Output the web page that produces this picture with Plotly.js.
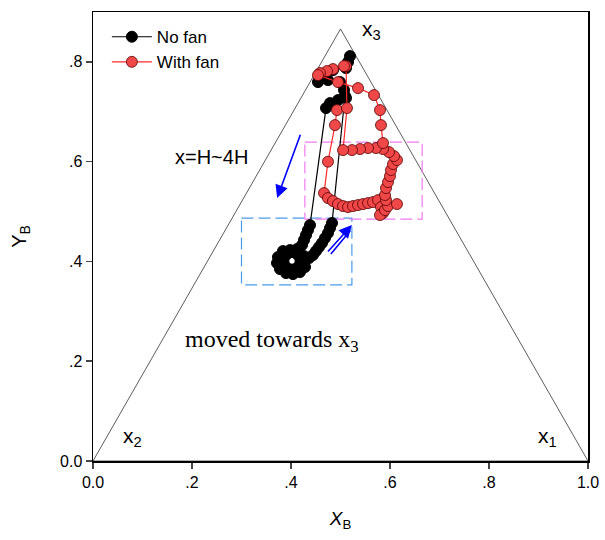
<!DOCTYPE html>
<html>
<head>
<meta charset="utf-8">
<script src="https://cdn.plot.ly/plotly-3.0.1.min.js"></script>
<style>html,body{margin:0;padding:0;background:#fff}#chart{width:605px;height:540px}</style>
</head>
<body>
<div id="chart"></div>
<script>
// ---- Data ----
// Triangle frame (ternary boundary)
var triX = [0, 0.5, 1, 0];
var triY = [0, 0.866, 0, 0];

// No fan series
var noFanX = [0.5192,0.5152,0.5111,0.4848,0.4586,0.4545,0.4747,0.4990,0.5071,0.5111,0.4949,0.4788,0.4707,
              0.4384,0.4343,0.4303,0.4263,0.4222,0.4121,0.3980,0.3838,0.3737,0.3717,0.3778,0.3899,0.4040,
              0.4182,0.4283,0.4192,0.4141,0.4020,0.3899,0.3848,0.3899,0.4020,0.4141,0.4263,0.4364,0.4444,
              0.4505,0.4566,0.4626,0.4687,0.4747,0.4788,0.4828,0.5091];
var noFanY = [0.8116,0.7996,0.7876,0.7836,0.7735,0.7595,0.7635,0.7595,0.7435,0.7275,0.7234,0.7174,0.7074,
              0.4729,0.4629,0.4529,0.4429,0.4329,0.4248,0.4228,0.4208,0.4088,0.3968,0.3848,0.3768,0.3747,
              0.3788,0.3888,0.4008,0.3888,0.3838,0.3888,0.4008,0.4128,0.4188,0.4128,0.4108,0.4068,0.4128,
              0.4208,0.4289,0.4369,0.4469,0.4569,0.4669,0.4770,0.7315];

// With fan series
var withFanX = [0.4929,0.4889,0.4747,0.4667,0.4747,0.4848,0.4949,0.5051,0.5152,0.5253,0.5354,0.5455,0.5556,
                0.5657,0.5758,0.5818,0.5859,0.5798,0.5899,0.5960,0.6141,0.5919,0.5899,0.5919,0.5960,0.6000,
                0.6020,0.6061,0.6141,0.6081,0.5980,0.5859,0.5717,0.5556,0.5394,0.5232,0.5051,0.5131,0.5111,
                0.5071,0.4848,0.4727,0.4586,0.4545,0.4949,0.5354,0.5677,0.5798,0.5818,0.5859];
var withFanY = [0.7034,0.6733,0.6000,0.5371,0.5271,0.5210,0.5150,0.5110,0.5090,0.5110,0.5130,0.5150,0.5170,
                0.5190,0.5230,0.5090,0.4970,0.4930,0.5030,0.5110,0.5150,0.5230,0.5331,0.5471,0.5591,0.5711,
                0.5832,0.5952,0.6032,0.6112,0.6192,0.6253,0.6273,0.6273,0.6253,0.6232,0.6232,0.7074,0.7916,
                0.7916,0.7856,0.7816,0.7776,0.7735,0.7595,0.7475,0.7335,0.7034,0.6733,0.6373];

// Highlight boxes
var blueBoxX = [0.30, 0.523, 0.523, 0.30, 0.30];
var blueBoxY = [0.487, 0.487, 0.353, 0.353, 0.487];
var pinkBoxX = [0.428, 0.665, 0.665, 0.428, 0.428];
var pinkBoxY = [0.639, 0.639, 0.485, 0.485, 0.639];

// Direction arrows [tailX, tailY, headX, headY]
var arrowDown = [0.420, 0.657, 0.372, 0.527];
var arrowUp = [0.472, 0.417, 0.523, 0.473];
var arrowUp2 = [0.478, 0.412, 0.520, 0.462];

// Tick labels
var xTickVals = [0, 0.2, 0.4, 0.6, 0.8, 1.0];
var xTickText = ['0.0', '.2', '.4', '.6', '.8', '1.0'];
var yTickVals = [0, 0.2, 0.4, 0.6, 0.8];
var yTickText = ['0.0', '.2', '.4', '.6', '.8'];

// ---- Traces ----
var traces = [
  {x: triX, y: triY, mode: 'lines', line: {color: '#333', width: 0.8}, showlegend: false, hoverinfo: 'skip'},
  {x: blueBoxX, y: blueBoxY, mode: 'lines', line: {color: '#4a9bec', width: 1.2, dash: '12px,5px'}, showlegend: false, hoverinfo: 'skip'},
  {x: pinkBoxX, y: pinkBoxY, mode: 'lines', line: {color: '#f07af0', width: 1.2, dash: '12px,5px'}, showlegend: false, hoverinfo: 'skip'},
  {x: noFanX, y: noFanY, name: 'No fan', mode: 'lines+markers',
   line: {color: '#000', width: 1.2},
   marker: {color: '#000', size: 11, line: {color: '#000', width: 1}}},
  {x: withFanX, y: withFanY, name: 'With fan', mode: 'lines+markers',
   line: {color: '#ff2a2a', width: 1.2},
   marker: {color: '#f04848', size: 11, line: {color: '#5a0000', width: 0.8}}}
];

var font = 'Arial, "Liberation Sans", sans-serif';
function arrowAnn(a, head) {
  return {x: a[2], y: a[3], ax: a[0], ay: a[1], xref: 'x', yref: 'y', axref: 'x', ayref: 'y',
          text: '', showarrow: true, arrowhead: head, arrowsize: 1.6, arrowwidth: 1.6, arrowcolor: '#0000ff'};
}

var layout = {
  width: 605, height: 540,
  margin: {l: 93, r: 17, t: 12, b: 79},
  paper_bgcolor: '#fff', plot_bgcolor: '#fff',
  font: {family: font, color: '#000', size: 16},
  showlegend: true,
  legend: {x: 0.028, y: 0.984, xanchor: 'left', yanchor: 'top', bgcolor: 'rgba(0,0,0,0)',
           font: {family: font, size: 17, color: '#000'}, tracegroupgap: 0, itemwidth: 40},
  xaxis: {range: [0, 1], tickvals: xTickVals, ticktext: xTickText, ticks: 'outside', ticklen: 6, tickwidth: 1.5,
          showline: true, linewidth: 1.5, linecolor: '#000', mirror: true, showgrid: false, zeroline: false,
          tickfont: {size: 16},
          title: {text: '<i>X</i><sub>B</sub>', font: {size: 19}, standoff: 22}},
  yaxis: {range: [0, 0.9], tickvals: yTickVals, ticktext: yTickText, ticks: 'outside', ticklen: 6, tickwidth: 1.5,
          showline: true, linewidth: 1.5, linecolor: '#000', mirror: true, showgrid: false, zeroline: false,
          tickfont: {size: 16},
          title: {text: 'Y<sub>B</sub>', font: {size: 20}, standoff: 28}},
  annotations: [
    {x: 0.5636, y: 0.864, xref: 'x', yref: 'y', text: 'x<sub>3</sub>', showarrow: false, font: {size: 21}},
    {x: 0.0788, y: 0.048, xref: 'x', yref: 'y', text: 'x<sub>2</sub>', showarrow: false, font: {size: 21}},
    {x: 0.919, y: 0.048, xref: 'x', yref: 'y', text: 'x<sub>1</sub>', showarrow: false, font: {size: 21}},
    {x: 0.240, y: 0.609, xref: 'x', yref: 'y', text: 'x=H~4H', showarrow: false, font: {size: 20}},
    {x: 0.362, y: 0.240, xref: 'x', yref: 'y', text: 'moved towards x<sub>3</sub>', showarrow: false,
     font: {family: '"Liberation Serif", "Times New Roman", serif', size: 24}},
    arrowAnn(arrowDown, 2),
    arrowAnn(arrowUp, 2),
    arrowAnn(arrowUp2, 0)
  ]
};

Plotly.newPlot('chart', traces, layout, {staticPlot: true, displayModeBar: false});
</script>
</body>
</html>
